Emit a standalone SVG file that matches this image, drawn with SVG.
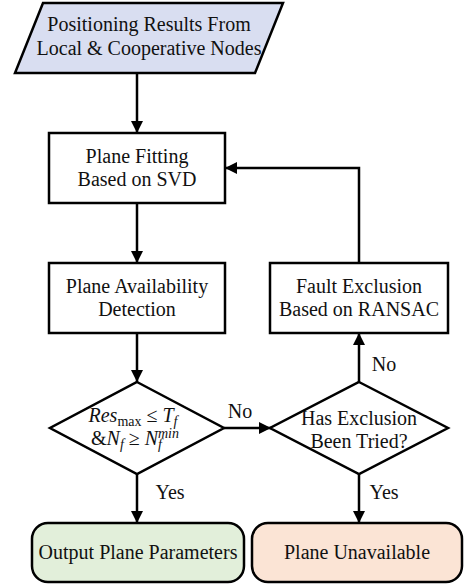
<svg xmlns="http://www.w3.org/2000/svg" width="464" height="584" viewBox="0 0 464 584">
  <defs>
    <marker id="arrow" markerUnits="userSpaceOnUse" markerWidth="12" markerHeight="12" refX="12" refY="6" orient="auto">
      <path d="M0,0 L12,6 L0,12 z" fill="#000"/>
    </marker>
    <style>
      .shape { stroke: #000; stroke-width: 2.5; }
      .box { fill: #fff; }
      .lbl { font-size: 20px; fill: #111; text-anchor: middle; }
      .edge { fill: none; stroke: #000; stroke-width: 2.5; marker-end: url(#arrow); }
      .it { font-style: italic; }
      .sm { font-size: 14px; }
    </style>
  </defs>
  <rect width="464" height="584" fill="#fff"/>

  <g font-family="'Liberation Serif', 'DejaVu Serif', serif">
  <g id="connectors">
    <line class="edge" x1="137" y1="73" x2="137" y2="133"/>
    <line class="edge" x1="137" y1="203" x2="137" y2="263"/>
    <line class="edge" x1="137" y1="333" x2="137" y2="382"/>
    <line class="edge" x1="137" y1="474" x2="137" y2="523"/>
    <line class="edge" x1="224" y1="428" x2="271" y2="428"/>
    <line class="edge" x1="359" y1="382" x2="359" y2="333"/>
    <line class="edge" x1="359" y1="474" x2="359" y2="523"/>
    <polyline class="edge" points="359,263 359,168 225,168"/>
    <text class="lbl" x="240" y="418">No</text>
    <text class="lbl" x="384" y="371">No</text>
    <text class="lbl" x="170" y="499">Yes</text>
    <text class="lbl" x="384" y="499">Yes</text>
  </g>

  <g id="input">
    <polygon class="shape" fill="#D9DEF1" points="43,3 283,3 255,73 15,73"/>
    <text class="lbl" x="149" y="31">Positioning Results From</text>
    <text class="lbl" x="149" y="55">Local &amp; Cooperative Nodes</text>
  </g>

  <g id="plane-fitting">
    <rect class="shape box" x="49" y="133" width="176" height="70"/>
    <text class="lbl" x="137" y="163">Plane Fitting</text>
    <text class="lbl" x="137" y="186">Based on SVD</text>
  </g>

  <g id="availability">
    <rect class="shape box" x="49" y="263" width="176" height="70"/>
    <text class="lbl" x="137" y="293">Plane Availability</text>
    <text class="lbl" x="137" y="316">Detection</text>
  </g>

  <g id="fault-exclusion">
    <rect class="shape box" x="270" y="263" width="178" height="70"/>
    <text class="lbl" x="359" y="293">Fault Exclusion</text>
    <text class="lbl" x="359" y="316">Based on RANSAC</text>
  </g>

  <g id="check">
    <polygon class="shape box" points="137,382 224,428 137,474 50,428"/>
    <text class="lbl" x="133" y="422"><tspan class="it">Res</tspan><tspan class="sm" dy="4">max</tspan><tspan dy="-4"> ≤ </tspan><tspan class="it">T</tspan><tspan class="it sm" dy="4">f</tspan></text>
    <text class="lbl" x="135" y="445">&amp;<tspan class="it">N</tspan><tspan class="it sm" dy="4">f</tspan><tspan dy="-4"> ≥ </tspan><tspan class="it">N</tspan><tspan class="it sm" dy="4">f</tspan><tspan class="it sm" dx="-4" dy="-11">min</tspan></text>
  </g>

  <g id="tried">
    <polygon class="shape box" points="359,382 448,428 359,474 270,428"/>
    <text class="lbl" x="359" y="425">Has Exclusion</text>
    <text class="lbl" x="359" y="448">Been Tried?</text>
  </g>

  <g id="output">
    <rect class="shape" fill="#E2EFDA" x="32" y="523" width="212" height="59" rx="16"/>
    <text class="lbl" x="138" y="559">Output Plane Parameters</text>
  </g>

  <g id="unavailable">
    <rect class="shape" fill="#FBE4D5" x="252" y="523" width="210" height="59" rx="16"/>
    <text class="lbl" x="357" y="559">Plane Unavailable</text>
  </g>
  </g>
</svg>
